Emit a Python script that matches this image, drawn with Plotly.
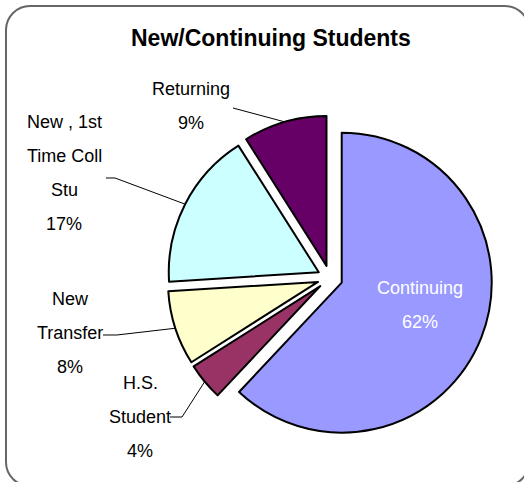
import math
import plotly.graph_objects as go

# ---- data ----
categories = ["Continuing", "H.S. Student", "New Transfer", "New , 1st Time Coll Stu", "Returning"]
percents = [62, 4, 8, 17, 9]
colors = ["#9999FF", "#993366", "#FFFFCC", "#CCFFFF", "#660066"]
label_lines = [["Continuing"], ["H.S.", "Student"], ["New", "Transfer"], ["New , 1st", "Time Coll", "Stu"], ["Returning"]]

W, H = 524, 482
CX, CY, R, PULL = 330.0, 278.0, 150.0, 0.084
box = R * (1 + PULL)

def px(x):
    return x / W

def py(y):
    return 1 - y / H

fig = go.Figure(go.Pie(
    labels=categories,
    values=percents,
    sort=False,
    direction="clockwise",
    rotation=0,
    pull=PULL,
    marker=dict(colors=colors, line=dict(color="#000000", width=2)),
    textinfo="none",
    hoverinfo="label+percent",
    showlegend=False,
    domain=dict(x=[px(CX - box), px(CX + box)], y=[py(CY + box), py(CY - box)]),
))

FONT = "Liberation Sans, Arial, sans-serif"
FS = 18
LH = 34

# label anchor (center x, y of first line) in window pixels, per slice
label_pos = [(420, 288), (140, 383), (70, 299), (64, 122), (191, 89)]
label_color = ["#FFFFFF", "#000000", "#000000", "#000000", "#000000"]

annotations = [dict(text="<b>New/Continuing Students</b>", x=px(271), y=py(38), xref="paper", yref="paper",
                    showarrow=False, xanchor="center", yanchor="middle",
                    font=dict(family="Liberation Sans, Arial, sans-serif", size=23, color="#000000"))]
for i, cat in enumerate(categories):
    lines = label_lines[i] + [f"{percents[i]}%"]
    lx, ly = label_pos[i]
    for k, t in enumerate(lines):
        annotations.append(dict(text=t, x=px(lx), y=py(ly + k * LH), xref="paper", yref="paper",
                                showarrow=False, xanchor="center", yanchor="middle",
                                font=dict(family=FONT, size=FS, color=label_color[i])))

# leader lines: from label side to the slice's mid-angle on the arc
leader_start = {1: [(170, 417), (182, 417)], 2: [(103, 335), (117, 335)], 3: [(106, 178), (115, 178)], 4: [(233, 108)]}
total = sum(percents)
cum = 0
shapes = []
for i, v in enumerate(percents):
    mid = (cum + v / 2) / total * 2 * math.pi
    cum += v
    if i not in leader_start:
        continue
    dx, dy = math.sin(mid), -math.cos(mid)
    ex, ey = CX + R * (1 + PULL) * dx, CY + R * (1 + PULL) * dy
    pts = leader_start[i] + [(ex, ey)]
    path = "M " + " L ".join(f"{px(a):.5f},{py(b):.5f}" for a, b in pts)
    shapes.append(dict(type="path", path=path, xref="paper", yref="paper",
                       line=dict(color="#000000", width=1)))

# rounded chart frame
x0, y0, x1, y1, rr = 6, 6, 529, 486, 24
k = 0.5523 * rr
def P(a, b):
    return f"{px(a):.5f},{py(b):.5f}"
frame = (f"M {P(x0 + rr, y0)} L {P(x1 - rr, y0)} C {P(x1 - rr + k, y0)} {P(x1, y0 + rr - k)} {P(x1, y0 + rr)} "
         f"L {P(x1, y1 - rr)} C {P(x1, y1 - rr + k)} {P(x1 - rr + k, y1)} {P(x1 - rr, y1)} "
         f"L {P(x0 + rr, y1)} C {P(x0 + rr - k, y1)} {P(x0, y1 - rr + k)} {P(x0, y1 - rr)} "
         f"L {P(x0, y0 + rr)} C {P(x0, y0 + rr - k)} {P(x0 + rr - k, y0)} {P(x0 + rr, y0)} Z")
shapes.append(dict(type="path", path=frame, xref="paper", yref="paper",
                   line=dict(color="#666666", width=2), layer="below"))

fig.update_layout(
    width=W, height=H,
    margin=dict(l=0, r=0, t=0, b=0),
    paper_bgcolor="#FFFFFF",
    plot_bgcolor="#FFFFFF",
    annotations=annotations,
    shapes=shapes,
)

fig.write_html("out.html", config={"displayModeBar": False},
               post_script="document.body.style.margin='0';document.body.style.overflow='hidden';")
